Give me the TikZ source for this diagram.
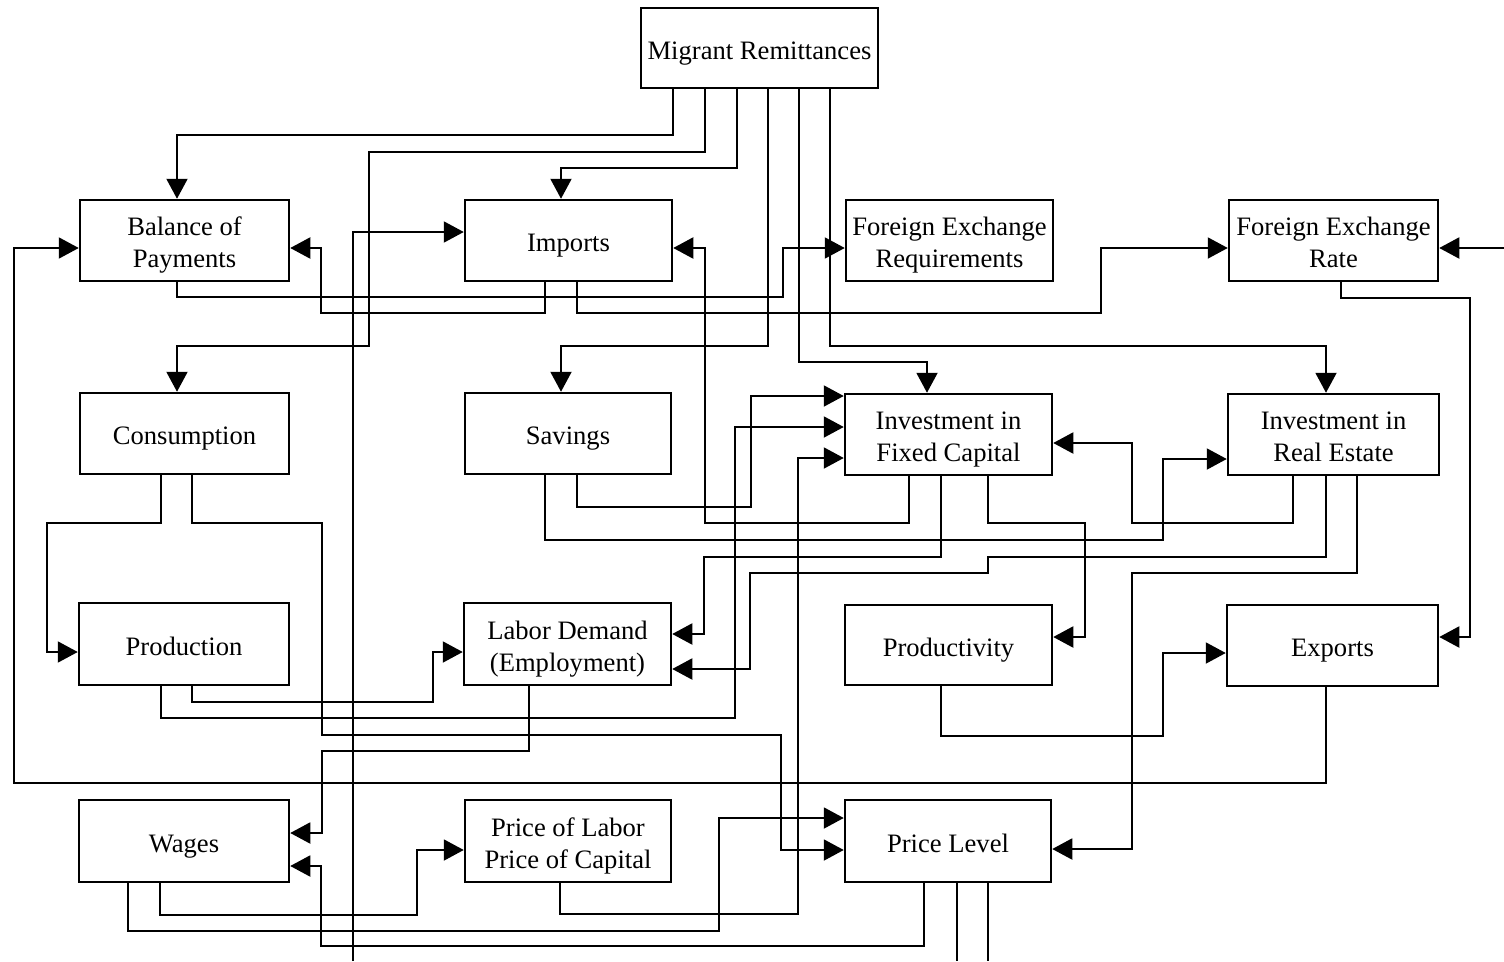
\documentclass[tikz,border=0pt]{standalone}
\usepackage{fontspec}
\setmainfont{Liberation Serif}
\usetikzlibrary{arrows.meta}
\newcommand{\boxtext}[1]{\raisebox{-5pt}[\height][\depth]{\begin{tabular}{@{}c@{}}#1\end{tabular}}}
\begin{document}
\begin{tikzpicture}[x=1pt,y=-1pt,
  box/.style={draw, line width=2.5pt, rectangle, inner sep=0pt, align=center,
    font=\fontsize{26.6}{32}\selectfont},
  conn/.style={draw, line width=2pt},
  arr/.style={conn, -{Triangle[length=20pt,width=21pt]}}]
\useasboundingbox (0,0) rectangle (1504,961);
% nodes
\node[box, minimum width=237pt, minimum height=80pt] (MR) at (759.5,48) {\boxtext{Migrant Remittances}};
\node[box, minimum width=209pt, minimum height=81pt] (BoP) at (184.5,240.5) {\boxtext{Balance of\\Payments}};
\node[box, minimum width=207pt, minimum height=81pt] (IMP) at (568.5,240.5) {\boxtext{Imports}};
\node[box, minimum width=207pt, minimum height=81pt] (FER) at (949.5,240.5) {\boxtext{Foreign Exchange\\Requirements}};
\node[box, minimum width=209pt, minimum height=81pt] (FXR) at (1333.5,240.5) {\boxtext{Foreign Exchange\\Rate}};
\node[box, minimum width=209pt, minimum height=81pt] (CON) at (184.5,433.5) {\boxtext{Consumption}};
\node[box, minimum width=206pt, minimum height=81pt] (SAV) at (568,433.5) {\boxtext{Savings}};
\node[box, minimum width=207pt, minimum height=81pt] (IFC) at (948.5,434.5) {\boxtext{Investment in\\Fixed Capital}};
\node[box, minimum width=211pt, minimum height=81pt] (IRE) at (1333.5,434.5) {\boxtext{Investment in\\Real Estate}};
\node[box, minimum width=210pt, minimum height=82pt] (PRO) at (184,644) {\boxtext{Production}};
\node[box, minimum width=207pt, minimum height=82pt] (LD) at (567.5,644) {\boxtext{Labor Demand\\(Employment)}};
\node[box, minimum width=207pt, minimum height=80pt] (PRD) at (948.5,645) {\boxtext{Productivity}};
\node[box, minimum width=211pt, minimum height=81pt] (EXP) at (1332.5,645.5) {\boxtext{Exports}};
\node[box, minimum width=210pt, minimum height=82pt] (WAG) at (184,841) {\boxtext{Wages}};
\node[box, minimum width=206pt, minimum height=82pt] (PLC) at (568,841) {\boxtext{Price of Labor\\Price of Capital}};
\node[box, minimum width=206pt, minimum height=82pt] (PL) at (948,841) {\boxtext{Price Level}};
% free ends
\coordinate (extR) at (1504,248);
\coordinate (extB1) at (353,961);
\coordinate (extB2) at (957,961);
\coordinate (extB3) at (988,961);
% Migrant remittances outputs
\draw[arr] (MR.south -| 673,0) -- (673,135) -- (177,135) -- (BoP.north -| 177,0);
\draw[arr] (MR.south -| 705,0) -- (705,152) -- (369,152) -- (369,346) -- (177,346) -- (CON.north -| 177,0);
\draw[arr] (MR.south -| 737,0) -- (737,168) -- (561,168) -- (IMP.north -| 561,0);
\draw[arr] (MR.south -| 768,0) -- (768,346) -- (561,346) -- (SAV.north -| 561,0);
\draw[arr] (MR.south -| 799,0) -- (799,362) -- (927,362) -- (IFC.north -| 927,0);
\draw[arr] (MR.south -| 830,0) -- (830,346) -- (1326,346) -- (IRE.north -| 1326,0);
% others
\draw[arr] (EXP.south -| 1326,0) -- (1326,783) -- (14,783) -- (14,248) -- (BoP.west |- 0,248);
\draw[arr] (IMP.south -| 545,0) -- (545,313) -- (321,313) -- (321,248) -- (BoP.east |- 0,248);
\draw[arr] (BoP.south -| 177,0) -- (177,297) -- (783,297) -- (783,248) -- (FER.west |- 0,248);
\draw[arr] (IMP.south -| 577,0) -- (577,313) -- (1101,313) -- (1101,248) -- (FXR.west |- 0,248);
\draw[arr] (extR) -- (FXR.east |- 0,248);
\draw[arr] (FXR.south -| 1341,0) -- (1341,298) -- (1470,298) -- (1470,637) -- (EXP.east |- 0,637);
\draw[arr] (IFC.south -| 909,0) -- (909,523) -- (705,523) -- (705,248) -- (IMP.east |- 0,248);
\draw[arr] (SAV.south -| 577,0) -- (577,507) -- (751,507) -- (751,396) -- (IFC.west |- 0,396);
\draw[arr] (PRO.south -| 161,0) -- (161,718) -- (735,718) -- (735,427) -- (IFC.west |- 0,427);
\draw[arr] (PLC.south -| 560,0) -- (560,914) -- (798,914) -- (798,458) -- (IFC.west |- 0,458);
\draw[arr] (IFC.south -| 941,0) -- (941,557) -- (704,557) -- (704,634) -- (LD.east |- 0,634);
\draw[arr] (IFC.south -| 988,0) -- (988,523) -- (1085,523) -- (1085,637) -- (PRD.east |- 0,637);
\draw[arr] (IRE.south -| 1293,0) -- (1293,523) -- (1132,523) -- (1132,443) -- (IFC.east |- 0,443);
\draw[arr] (IRE.south -| 1326,0) -- (1326,557) -- (988,557) -- (988,573) -- (750,573) -- (750,669) -- (LD.east |- 0,669);
\draw[arr] (IRE.south -| 1357,0) -- (1357,573) -- (1132,573) -- (1132,849) -- (PL.east |- 0,849);
\draw[arr] (SAV.south -| 545,0) -- (545,540) -- (1163,540) -- (1163,459) -- (IRE.west |- 0,459);
\draw[arr] (CON.south -| 161,0) -- (161,523) -- (47,523) -- (47,652) -- (PRO.west |- 0,652);
\draw[arr] (CON.south -| 192,0) -- (192,523) -- (322,523) -- (322,735) -- (781,735) -- (781,850) -- (PL.west |- 0,850);
\draw[arr] (PRO.south -| 192,0) -- (192,702) -- (433,702) -- (433,652) -- (LD.west |- 0,652);
\draw[arr] (LD.south -| 529,0) -- (529,751) -- (322,751) -- (322,833) -- (WAG.east |- 0,833);
\draw[arr] (PL.south -| 924,0) -- (924,946) -- (321,946) -- (321,866) -- (WAG.east |- 0,866);
\draw[arr] (WAG.south -| 160,0) -- (160,915) -- (417,915) -- (417,850) -- (PLC.west |- 0,850);
\draw[arr] (WAG.south -| 128,0) -- (128,931) -- (719,931) -- (719,818) -- (PL.west |- 0,818);
\draw[arr] (PRD.south -| 941,0) -- (941,736) -- (1163,736) -- (1163,653) -- (EXP.west |- 0,653);
\draw[arr] (extB1) -- (353,232) -- (IMP.west |- 0,232);
\draw[conn] (PL.south -| 957,0) -- (extB2);
\draw[conn] (PL.south -| 988,0) -- (extB3);
\end{tikzpicture}
\end{document}
